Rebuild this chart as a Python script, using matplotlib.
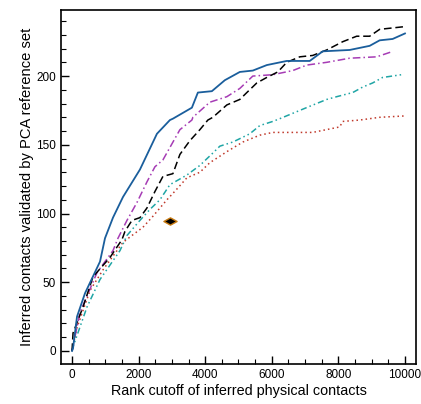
import numpy as np
import matplotlib
matplotlib.use('Agg')
from matplotlib import pyplot as plt
from matplotlib.path import Path
from matplotlib.ticker import MultipleLocator

plt.rcParams['font.family'] = ['Liberation Sans', 'DejaVu Sans']

# solid blue
blue_x = [0, 30, 150, 390, 840, 990, 1230, 1530, 2040, 2550, 2940, 3030, 3600, 3780, 4200,
          4590, 5040, 5430, 5850, 6450, 7140, 7530, 8340, 8940, 9240, 9630, 10000]
blue_y = [0, 2, 25, 42, 65, 82, 97, 112, 132, 158, 168, 169, 177, 188, 189,
          197, 203, 204, 208, 211, 211, 218, 219, 222, 226, 227, 231]

# black dashed
black_x = [0, 30, 330, 630, 1140, 1500, 1590, 1800, 2040, 2250, 2490, 2730, 3030, 3240, 3540,
           3840, 4080, 4230, 4650, 5040, 5250, 5550, 5850, 6180, 6450, 6840, 7230, 7650,
           8130, 8550, 8940, 9240, 10000]
black_y = [0, 13, 32, 54, 68, 81, 87, 95, 97, 104, 116, 127, 129, 143, 153,
           161, 168, 170, 179, 183, 188, 195, 199, 203, 210, 214, 215, 219,
           225, 229, 229, 234, 236]

# purple dash-dot
purple_x = [0, 240, 750, 1230, 1380, 1650, 1950, 2250, 2490, 2730, 3240, 3600, 3630, 4140,
            4650, 5040, 5430, 6030, 6630, 7050, 7650, 8340, 9150, 9640]
purple_y = [0, 28, 57, 73, 82, 95, 108, 123, 134, 139, 161, 168, 170, 181,
            185, 191, 200, 201, 204, 208, 210, 213, 214, 218]

# teal dash-dot-dot
teal_x = [0, 30, 450, 840, 1440, 1650, 2040, 2340, 2640, 2940, 3450, 3840, 4230, 4440, 4830,
          5340, 5640, 6030, 6240, 6540, 7140, 7650, 7950, 8430, 8730, 9030, 9330, 9900]
teal_y = [0, 3, 32, 52, 73, 84, 95, 103, 110, 121, 128, 135, 144, 149, 152,
          158, 164, 167, 169, 172, 178, 183, 185, 188, 192, 195, 199, 201]

# red dotted
red_x = [0, 150, 540, 930, 1530, 1800, 2130, 2430, 2850, 3120, 3450, 3840, 4140, 4650, 5130,
         5640, 6030, 7230, 8040, 8130, 8640, 9240, 10000]
red_y = [0, 17, 44, 59, 79, 84, 90, 98, 110, 117, 126, 130, 137, 145, 152,
         157, 159, 159, 163, 167, 168, 170, 171]

pca_x = [2930]
pca_y = [94.5]

fig = plt.figure(figsize=(4.21, 4.04), dpi=100)
ax = fig.add_axes([0.145, 0.099, 0.843, 0.876])

ax.plot(red_x, red_y, color='#c0392b', lw=1.1, linestyle=(0, (1, 2)))
ax.plot(teal_x, teal_y, color='#1fa5a5', lw=1.1, linestyle=(0, (4, 2, 1, 2, 1, 2)))
ax.plot(purple_x, purple_y, color='#a63cb5', lw=1.1, linestyle=(0, (5, 2, 1, 2)))
ax.plot(black_x, black_y, color='black', lw=1.1, linestyle=(0, (5, 2.5)))
ax.plot(blue_x, blue_y, color='#1a5e9c', lw=1.3)

diamond = Path([(-1, 0), (0, 0.55), (1, 0), (0, -0.55), (-1, 0)],
               [Path.MOVETO, Path.LINETO, Path.LINETO, Path.LINETO, Path.CLOSEPOLY])
ax.plot(pca_x, pca_y, marker=diamond, markersize=9.5, color='black',
        markeredgecolor='#c87a10', markeredgewidth=1.0, linestyle='none')

ax.set_xlim(-330, 10330)
ax.set_ylim(-9.5, 248)
ax.xaxis.set_major_locator(MultipleLocator(2000))
ax.xaxis.set_minor_locator(MultipleLocator(500))
ax.yaxis.set_major_locator(MultipleLocator(50))
ax.yaxis.set_minor_locator(MultipleLocator(10))
ax.tick_params(which='both', direction='in', labelsize=8.5)
ax.tick_params(which='major', length=5.5, width=1)
ax.tick_params(which='minor', length=3.5, width=0.8)
for s in ax.spines.values():
    s.set_linewidth(1.2)

ax.set_xlabel('Rank cutoff of inferred physical contacts', fontsize=10.4, labelpad=2)
ax.set_ylabel('Inferred contacts validated by PCA reference set', fontsize=10.6, labelpad=2)

fig.savefig('out.png', dpi=100)
